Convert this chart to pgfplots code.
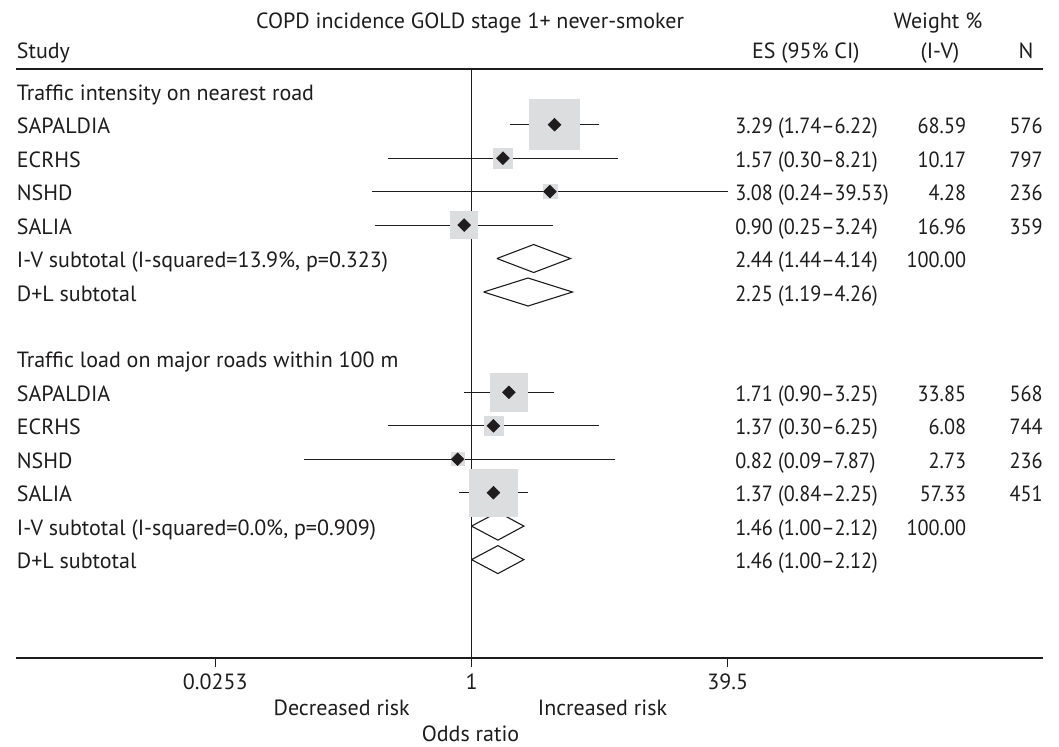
\documentclass[border=0pt]{standalone}
\usepackage{pgfplots}
\pgfplotsset{compat=1.18}
\usepackage{pgfplotstable}
\usepackage{fontspec}
\setmainfont{PT Sans}
\newfontfamily\numfont[FakeStretch=0.92, Ligatures=TeX]{PT Sans}
\definecolor{boxgray}{RGB}{220,221,223}
\definecolor{ink}{RGB}{30,28,29}
\newcommand\ff{\fontsize{11}{13}\selectfont}
\newcommand\nf{\numfont\fontsize{11}{13}\selectfont}

% es lo hi : odds ratio and 95% CI; y : vertical position (746 - pixel row); box : side of weight box (px)
\pgfplotstableread{
es    lo    hi     y       box
3.29  1.74  6.22   621.3   50
1.57  0.30  8.21   587.8   19.5
3.08  0.24  39.53  554.4   14
0.90  0.25  3.24   520.9   27
1.71  0.90  3.25   353.7   37.5
1.37  0.30  6.25   320.2   19
0.82  0.09  7.87   286.8   12.7
1.37  0.84  2.25   253.3   47.5
}\studies

\begin{document}
\begin{tikzpicture}
\begin{scope}[x=0.5pt,y=-0.5pt]
\path[use as bounding box] (0,0) rectangle (1059,746);
\end{scope}
\begin{axis}[
  at={(8pt,-34.5pt)}, anchor=north west,
  width=513.5pt, height=294.5pt, scale only axis,
  xmode=log, xmin=1.4522e-3, xmax=3637.2,
  ymin=88, ymax=677,
  axis x line=box, axis y line=none,
  xtick pos=left, tick align=outside, major tick length=4.5pt,
  xtick={0.0253,1,39.5}, xticklabels={0.0253,1,39.5},
  xminorticks=false, ytick=\empty,
  x axis line style={ink, line width=0.85pt},
  xtick style={ink, line width=0.65pt},
  xticklabel style={font=\ff, text=ink},
  clip=false,
]
% reference line at OR = 1
\addplot[ink, line width=0.65pt] coordinates {(1,88) (1,677)};
% weight boxes
\addplot[scatter, only marks, mark=square*,
  scatter/use mapped color={draw=boxgray, fill=boxgray},
  visualization depends on={\thisrow{box} \as \boxside},
  scatter/@pre marker code/.append style={/tikz/mark size=\boxside/4}]
  table[x=es, y=y] {\studies};
% confidence intervals
\addplot[ink, line width=0.5pt] coordinates {(1.74,621.3) (6.22,621.3)};
\addplot[ink, line width=0.5pt] coordinates {(0.30,587.8) (8.21,587.8)};
\addplot[ink, line width=0.5pt] coordinates {(0.24,554.4) (39.53,554.4)};
\addplot[ink, line width=0.5pt] coordinates {(0.25,520.9) (3.24,520.9)};
\addplot[ink, line width=0.5pt] coordinates {(0.90,353.7) (3.25,353.7)};
\addplot[ink, line width=0.5pt] coordinates {(0.30,320.2) (6.25,320.2)};
\addplot[ink, line width=0.5pt] coordinates {(0.09,286.8) (7.87,286.8)};
\addplot[ink, line width=0.5pt] coordinates {(0.84,253.3) (2.25,253.3)};
% point estimates
\addplot[only marks, mark=square*, mark size=2.25pt,
  mark options={rotate=45, fill=ink, draw=ink, line width=0.3pt}]
  table[x=es, y=y] {\studies};
% pooled estimates
\addplot[ink, line width=0.55pt] coordinates {(1.44,487.5) (2.44,501.5) (4.14,487.5) (2.44,473.5) (1.44,487.5)};
\addplot[ink, line width=0.55pt] coordinates {(1.19,454.0) (2.25,468.0) (4.26,454.0) (2.25,440.0) (1.19,454.0)};
\addplot[ink, line width=0.55pt] coordinates {(1.00,219.9) (1.46,233.9) (2.12,219.9) (1.46,205.9) (1.00,219.9)};
\addplot[ink, line width=0.55pt] coordinates {(1.00,186.4) (1.46,200.4) (2.12,186.4) (1.46,172.4) (1.00,186.4)};
\end{axis}
\begin{scope}[x=0.5pt,y=-0.5pt, every node/.style={font=\ff, text=ink, inner sep=0pt}]
% headers
\node[anchor=base] at (470,28) {COPD incidence GOLD stage 1+ never-smoker};
\node[anchor=base] at (938,28) {Weight \%};
\node[anchor=base west] at (16.5,58) {Study};
\node[anchor=base east] at (860,58) {ES (95\% CI)};
\node[anchor=base] at (940,58) {(I-V)};
\node[anchor=base] at (1026,58) {N};
% labels
\node[anchor=base west] at (16.5,100.3) {Traffic intensity on nearest road};
\node[anchor=base west] at (16.5,133.75) {SAPALDIA};
\node[anchor=base west] at (16.5,167.2) {ECRHS};
\node[anchor=base west] at (16.5,200.65) {NSHD};
\node[anchor=base west] at (16.5,234.1) {SALIA};
\node[anchor=base west] at (16.5,267.55) {I-V subtotal (I-squared=13.9\%, p=0.323)};
\node[anchor=base west] at (16.5,301) {D+L subtotal};
\node[anchor=base west] at (16.5,367.9) {Traffic load on major roads within 100 m};
\node[anchor=base west] at (16.5,401.35) {SAPALDIA};
\node[anchor=base west] at (16.5,434.8) {ECRHS};
\node[anchor=base west] at (16.5,468.25) {NSHD};
\node[anchor=base west] at (16.5,501.7) {SALIA};
\node[anchor=base west] at (16.5,535.15) {I-V subtotal (I-squared=0.0\%, p=0.909)};
\node[anchor=base west] at (16.5,568.6) {D+L subtotal};
\begin{scope}[every node/.append style={font=\nf}]
% ES column
\node[anchor=base west] at (735,133.75) {3.29 (1.74–6.22)};
\node[anchor=base west] at (735,167.2) {1.57 (0.30–8.21)};
\node[anchor=base west] at (735,200.65) {3.08 (0.24–39.53)};
\node[anchor=base west] at (735,234.1) {0.90 (0.25–3.24)};
\node[anchor=base west] at (735,267.55) {2.44 (1.44–4.14)};
\node[anchor=base west] at (735,301) {2.25 (1.19–4.26)};
\node[anchor=base west] at (735,401.35) {1.71 (0.90–3.25)};
\node[anchor=base west] at (735,434.8) {1.37 (0.30–6.25)};
\node[anchor=base west] at (735,468.25) {0.82 (0.09–7.87)};
\node[anchor=base west] at (735,501.7) {1.37 (0.84–2.25)};
\node[anchor=base west] at (735,535.15) {1.46 (1.00–2.12)};
\node[anchor=base west] at (735,568.6) {1.46 (1.00–2.12)};
% weight column
\node[anchor=base east] at (966.5,133.75) {68.59};
\node[anchor=base east] at (966.5,167.2) {10.17};
\node[anchor=base east] at (966.5,200.65) {4.28};
\node[anchor=base east] at (966.5,234.1) {16.96};
\node[anchor=base east] at (966.5,267.55) {100.00};
\node[anchor=base east] at (966.5,401.35) {33.85};
\node[anchor=base east] at (966.5,434.8) {6.08};
\node[anchor=base east] at (966.5,468.25) {2.73};
\node[anchor=base east] at (966.5,501.7) {57.33};
\node[anchor=base east] at (966.5,535.15) {100.00};
% N column
\node[anchor=base east] at (1043,133.75) {576};
\node[anchor=base east] at (1043,167.2) {797};
\node[anchor=base east] at (1043,200.65) {236};
\node[anchor=base east] at (1043,234.1) {359};
\node[anchor=base east] at (1043,401.35) {568};
\node[anchor=base east] at (1043,434.8) {744};
\node[anchor=base east] at (1043,468.25) {236};
\node[anchor=base east] at (1043,501.7) {451};
\end{scope}
% axis annotations
\node[anchor=base] at (341.7,715) {Decreased risk};
\node[anchor=base] at (602.5,715) {Increased risk};
\node[anchor=base] at (470.5,741.5) {Odds ratio};
\end{scope}
\end{tikzpicture}
\end{document}
